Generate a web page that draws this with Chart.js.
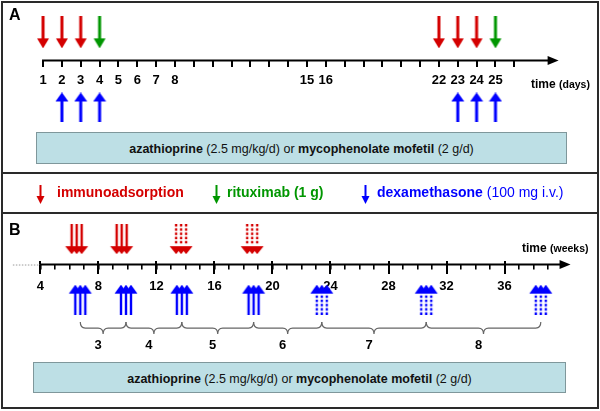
<!DOCTYPE html>
<html>
<head>
<meta charset="utf-8">
<script src="https://cdn.jsdelivr.net/npm/chart.js@4.4.1/dist/chart.umd.min.js"></script>
<style>
  body { margin: 0; background: #fff; }
  #wrap { position: relative; width: 600px; height: 411px; font-family: "Liberation Sans", Arial, sans-serif; color: #000; }
  #chart { position: absolute; left: 0; top: 0; }
  .frame { position: absolute; left: 1px; top: 1px; width: 598px; height: 408px; border: 2px solid #2a2a2a; box-sizing: border-box; }
  .rule { position: absolute; left: 1px; width: 598px; height: 2px; background: #2a2a2a; }
  .t { position: absolute; line-height: 1; white-space: nowrap; }
  .panel { font-size: 16px; font-weight: bold; left: 9px; }
  .time { font-size: 12px; font-weight: bold; }
  .time small { font-size: 10.5px; }
  .drug { position: absolute; background: #bddfe5; border: 1px solid #7f979b; box-sizing: border-box;
          display: flex; align-items: center; justify-content: center; font-size: 12.5px; color: #111; padding-top: 2px; }
  .lg { position: absolute; top: 185px; }
  .legend { font-size: 14px; top: 184.5px; }
</style>
</head>
<body>
<div id="wrap">
  <canvas id="chart" width="600" height="411"></canvas>
  <div class="frame"></div>
  <div class="rule" style="top:172px"></div>
  <div class="rule" style="top:212px"></div>

  <div class="t panel" style="top:7px">A</div>
  <div class="t panel" style="top:221.5px">B</div>
  <div class="t time" style="left:531px; top:78px">time <small>(days)</small></div>
  <div class="t time" style="left:522px; top:241.5px">time <small>(weeks)</small></div>

  <div class="drug" style="left:36px; top:132px; width:531px; height:32px">
    <span><b>azathioprine</b> (2.5 mg/kg/d) or <b>mycophenolate mofetil</b> (2 g/d)</span>
  </div>
  <div class="drug" style="left:33px; top:362px; width:533px; height:31px">
    <span><b>azathioprine</b> (2.5 mg/kg/d) or <b>mycophenolate mofetil</b> (2 g/d)</span>
  </div>

  <svg class="lg" style="left:36px" width="9" height="19"><path d="M4.5 0V12" stroke="#d40000" stroke-width="2"/><path d="M0.5 11H8.5L4.5 19Z" fill="#d40000"/></svg>
  <div class="t legend" style="left:57px; color:#d40000"><b>immunoadsorption</b></div>
  <svg class="lg" style="left:212px" width="9" height="19"><path d="M4.5 0V12" stroke="#009600" stroke-width="2"/><path d="M0.5 11H8.5L4.5 19Z" fill="#009600"/></svg>
  <div class="t legend" style="left:227px; color:#009600"><b>rituximab (1 g)</b></div>
  <svg class="lg" style="left:361px" width="9" height="19"><path d="M4.5 0V12" stroke="#0000ff" stroke-width="2"/><path d="M0.5 11H8.5L4.5 19Z" fill="#0000ff"/></svg>
  <div class="t legend" style="left:377px; color:#0000ff"><b>dexamethasone</b> (100 mg i.v.)</div>
</div>
<script>
// panel A: days
const dayTicks = Array.from({ length: 26 }, (_, i) => i + 1);
const dayLabels = [1, 2, 3, 4, 5, 6, 7, 8, 15, 16, 22, 23, 24, 25];
const immunoDays = [1, 2, 3, 22, 23, 24];
const rituximabDays = [4, 25];
const dexaDays = [2, 3, 4, 23, 24, 25];

// panel B: weeks
const weekTicks = Array.from({ length: 36 }, (_, i) => i + 4);
const weekLabels = [4, 8, 12, 16, 20, 24, 28, 32, 36];
const immunoWeeks = [6.5, 9.6];
const immunoWeeksReduced = [13.7, 18.6];
const dexaWeeks = [6.75, 9.9, 13.75, 18.7];
const dexaWeeksReduced = [23.4, 30.6, 38.5];
const intervalLabels = ['3', '4', '5', '6', '7', '8'];

const RED = '#d40000', GREEN = '#009600', BLUE = '#0000ff';
const FONT = '"Liberation Sans", Arial, sans-serif';
const tickFont = { family: FONT, size: 13, weight: 'bold' };

// vertical layout (pixels from top, via the hidden y scale)
const rows = { aDown: 28, aAxis: 57, aUp: 105, bDown: 240, bAxis: 266, bUp: 302, braceTop: 325, braceLabel: 349 };
const axisAEnd = 28.35, axisBStart = 2.1, axisBEnd = 40.55;

function arrowImage(color, up, count, dotted, w, h, head, headW, shaftW) {
  const c = document.createElement('canvas');
  c.width = w; c.height = h;
  const g = c.getContext('2d');
  g.fillStyle = color;
  if (up) { g.translate(0, h); g.scale(1, -1); }
  const cx = w / 2;
  const offs = count === 1 ? [0] : [-5, 0, 5];
  const body = h - head;
  offs.forEach(o => {
    if (dotted) {
      for (let r = 0; r < 5; r++) g.fillRect(cx + o - 1.2, r * 4.2, 2.4, 2.4);
    } else {
      g.fillRect(cx + o - shaftW / 2, 0, shaftW, body + 1);
    }
  });
  offs.forEach(o => {
    g.beginPath();
    g.moveTo(cx + o - headW / 2, body);
    g.lineTo(cx + o + headW / 2, body);
    g.lineTo(cx + o, h);
    g.closePath();
    g.fill();
  });
  return c;
}

const img = {
  redA: arrowImage(RED, false, 1, false, 14, 32, 10, 12, 3),
  greenA: arrowImage(GREEN, false, 1, false, 14, 32, 10, 12, 3),
  blueA: arrowImage(BLUE, true, 1, false, 14, 30, 9, 13, 3),
  redB: arrowImage(RED, false, 3, false, 26, 30, 8, 13, 2.4),
  redBdot: arrowImage(RED, false, 3, true, 26, 30, 8, 13, 2.4),
  blueB: arrowImage(BLUE, true, 3, false, 26, 30, 9, 13, 2.4),
  blueBdot: arrowImage(BLUE, true, 3, true, 26, 30, 9, 13, 2.4)
};

function pts(values, row) { return values.map(v => ({ x: v, y: row })); }

const decor = {
  id: 'decor',
  afterDraw(chart) {
    const { ctx } = chart;
    const { xa, xb, y } = chart.scales;
    const ya = y.getPixelForValue(rows.aAxis), yb = y.getPixelForValue(rows.bAxis);
    ctx.save();
    ctx.strokeStyle = '#000'; ctx.fillStyle = '#000'; ctx.lineWidth = 2;
    const head = (tip, yy) => {
      ctx.beginPath(); ctx.moveTo(tip, yy); ctx.lineTo(tip - 11, yy - 4.5); ctx.lineTo(tip - 11, yy + 4.5); ctx.closePath(); ctx.fill();
    };
    // axis A
    const a0 = xa.getPixelForValue(dayTicks[0]) - 1, a1 = xa.getPixelForValue(axisAEnd);
    ctx.beginPath(); ctx.moveTo(a0, ya); ctx.lineTo(a1 - 8, ya); ctx.stroke();
    head(a1, ya);
    // axis B
    const b0 = xb.getPixelForValue(weekTicks[0]) - 1, b1 = xb.getPixelForValue(axisBEnd);
    ctx.beginPath(); ctx.moveTo(b0, yb); ctx.lineTo(b1 - 8, yb); ctx.stroke();
    head(b1, yb);
    weekLabels.forEach(w => {
      const x = Math.round(xb.getPixelForValue(w));
      ctx.beginPath(); ctx.moveTo(x, yb - 3.5); ctx.lineTo(x, yb); ctx.stroke();
    });
    ctx.save();
    ctx.strokeStyle = '#9a9a9a'; ctx.lineWidth = 1; ctx.setLineDash([1.5, 1.5]);
    ctx.beginPath(); ctx.moveTo(xb.getPixelForValue(axisBStart), yb + 0.5); ctx.lineTo(b0, yb + 0.5); ctx.stroke();
    ctx.restore();
    // braces between dexamethasone pulses
    const pulses = dexaWeeks.concat(dexaWeeksReduced);
    const y0 = y.getPixelForValue(rows.braceTop), y1 = y0 + 6, y2 = y0 + 12, r = 5;
    ctx.strokeStyle = '#666'; ctx.lineWidth = 1.2;
    ctx.font = 'bold 13px ' + FONT; ctx.textAlign = 'center'; ctx.textBaseline = 'middle';
    intervalLabels.forEach((lab, i) => {
      const x1 = xb.getPixelForValue(pulses[i]), x2 = xb.getPixelForValue(pulses[i + 1]), m = (x1 + x2) / 2;
      ctx.beginPath();
      ctx.moveTo(x1, y0);
      ctx.quadraticCurveTo(x1, y1, x1 + r, y1);
      ctx.lineTo(m - r, y1);
      ctx.quadraticCurveTo(m, y1, m, y2);
      ctx.quadraticCurveTo(m, y1, m + r, y1);
      ctx.lineTo(x2 - r, y1);
      ctx.quadraticCurveTo(x2, y1, x2, y0);
      ctx.stroke();
      ctx.fillText(lab, m - 5, y.getPixelForValue(rows.braceLabel));
    });
    ctx.restore();
  }
};

Chart.defaults.font.family = FONT;

new Chart(document.getElementById('chart'), {
  type: 'scatter',
  data: {
    datasets: [
      { label: 'immunoadsorption', xAxisID: 'xa', data: pts(immunoDays, rows.aDown), pointStyle: img.redA },
      { label: 'rituximab', xAxisID: 'xa', data: pts(rituximabDays, rows.aDown), pointStyle: img.greenA },
      { label: 'dexamethasone', xAxisID: 'xa', data: pts(dexaDays, rows.aUp), pointStyle: img.blueA },
      { label: 'immunoadsorption B', xAxisID: 'xb', data: pts(immunoWeeks, rows.bDown), pointStyle: img.redB },
      { label: 'immunoadsorption B reduced', xAxisID: 'xb', data: pts(immunoWeeksReduced, rows.bDown), pointStyle: img.redBdot },
      { label: 'dexamethasone B', xAxisID: 'xb', data: pts(dexaWeeks, rows.bUp), pointStyle: img.blueB },
      { label: 'dexamethasone B reduced', xAxisID: 'xb', data: pts(dexaWeeksReduced, rows.bUp), pointStyle: img.blueBdot }
    ]
  },
  options: {
    responsive: false,
    animation: false,
    events: [],
    layout: { padding: 0 },
    plugins: { legend: { display: false }, tooltip: { enabled: false } },
    scales: {
      y: { type: 'linear', min: 0, max: 411, reverse: true, display: false },
      xa: {
        type: 'linear', axis: 'x', position: { y: rows.aAxis }, min: -1.017, max: 30.28, bounds: 'data',
        afterBuildTicks: s => { s.ticks = dayTicks.map(v => ({ value: v })); },
        grid: { drawOnChartArea: false, tickLength: 6, lineWidth: 2, color: '#000', tickColor: '#000' },
        border: { display: false },
        ticks: { autoSkip: false, maxRotation: 0, minRotation: 0, padding: 6, color: '#000', font: tickFont,
                 callback: v => dayLabels.includes(v) ? String(v) : '' }
      },
      xbMinor: {
        type: 'linear', axis: 'x', position: { y: rows.bAxis }, min: 1.559, max: 42.237, bounds: 'data',
        afterBuildTicks: s => { s.ticks = weekTicks.map(v => ({ value: v })); },
        grid: { drawOnChartArea: false, tickLength: 4.5, lineWidth: 1.6, color: '#000', tickColor: '#000' },
        border: { display: false },
        ticks: { display: false }
      },
      xb: {
        type: 'linear', axis: 'x', position: { y: rows.bAxis }, min: 1.559, max: 42.237, bounds: 'data',
        afterBuildTicks: s => { s.ticks = weekLabels.map(v => ({ value: v })); },
        grid: { drawOnChartArea: false, tickLength: 9, lineWidth: 2, color: '#000', tickColor: '#000' },
        border: { display: false },
        ticks: { autoSkip: false, maxRotation: 0, minRotation: 0, padding: 5.5, color: '#000', font: tickFont,
                 callback: v => String(v) }
      }
    }
  },
  plugins: [decor]
});
</script>
</body>
</html>
